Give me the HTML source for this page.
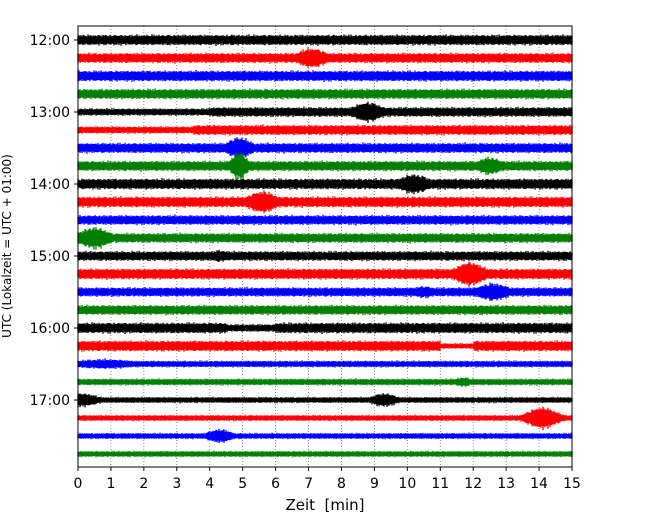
<!DOCTYPE html>
<html><head><meta charset="utf-8"><style>
body{margin:0;background:#fff}
svg{display:block;font-family:"DejaVu Sans","Liberation Sans",sans-serif}
</style></head><body>
<svg id="chart" width="650" height="520" xmlns="http://www.w3.org/2000/svg">
<rect width="650" height="520" fill="#fff"/>
<g id="grid"></g><g id="traces"></g><g id="axes"></g>
<text x="325" y="510" text-anchor="middle" font-size="15" xml:space="preserve">Zeit  [min]</text>
<text transform="translate(11,246) rotate(-90)" text-anchor="middle" font-size="12">UTC (Lokalzeit = UTC + 01:00)</text>
</svg>
<script>
// row base amplitudes (px half-height), 24 rows of 15 min each starting 12:00
const baseAmp=[4.2,4,4.3,4,3.8,4,4,4,4.3,4.3,3.8,3.8,3.8,4.3,3.6,3.8,4.3,4.3,2.3,2.3,2,2,2,2];
// events: row, minute, peak amplitude, width (minutes)
const evRow=[1,4,6,7,7,8,9,11,12,13,14,14,18,19,20,20,21,22];
const evMin=[7.1,8.8,4.9,4.9,12.5,10.2,5.6,0.5,4.3,11.9,12.6,10.5,0.8,11.7,0.1,9.3,14.1,4.3];
const evAmp=[9,9,10,13,8,9,10,10,5,11,8,5,4,4,6,6,10,6];
const evWid=[0.55,0.55,0.45,0.3,0.45,0.55,0.55,0.55,0.4,0.55,0.6,0.5,1.2,0.3,0.6,0.45,0.55,0.45];
// quiet segments: row, start minute, end minute, amplitude
const qRow=[4,5,16,17];
const qStart=[0,0,4.5,11];
const qEnd=[4,3.5,6,12];
const qAmp=[2.6,2.6,2.8,1.8];
const rowLabels=["12:00","13:00","14:00","15:00","16:00","17:00"];
const xTicks=[0,1,2,3,4,5,6,7,8,9,10,11,12,13,14,15];

const X0=78,X1=572,Y0=26,Y1=467,R0=40,RS=18;
const colors=["#000000","#ff0000","#0000ff","#008000"];
const xs=m=>X0+(X1-X0)*m/15;
const ys=r=>R0+r*RS;
const NS="http://www.w3.org/2000/svg";
function mk(tag,attrs,parent){const e=document.createElementNS(NS,tag);for(const k in attrs)e.setAttribute(k,attrs[k]);parent.appendChild(e);return e;}
const grid=document.getElementById('grid'),traces=document.getElementById('traces'),axes=document.getElementById('axes');
xTicks.forEach(t=>{
  const l=mk('line',{x1:xs(t),x2:xs(t),y1:Y0,y2:Y1,stroke:'#777','stroke-width':0.8,'stroke-dasharray':'1,2'},grid);
  
  
});
function amp(r,m){
  let a=baseAmp[r];
  for(let i=0;i<qRow.length;i++) if(qRow[i]===r&&m>=qStart[i]&&m<=qEnd[i]) a=qAmp[i];
  for(let i=0;i<evRow.length;i++) if(evRow[i]===r){const d=(m-evMin[i])/evWid[i];a=Math.max(a,evAmp[i]*Math.exp(-d*d));}
  return a;
}
for(let r=0;r<baseAmp.length;r++){
  let d='';const y=ys(r);
  for(let px=0;px<=X1-X0;px++){
    const m=px/(X1-X0)*15;
    const s=Math.sin(px*2.31+r)*0.5+Math.sin(px*1.13+r*1.7)*0.3+Math.sin(px*4.77+r*0.4)*0.2;
    const mod=0.7+0.45*Math.abs(s);
    const a=amp(r,m)*mod+0.7;
    const off=0.5*Math.sin(px*3.7+r);
    d+='M'+(X0+px)+' '+(y-a+off).toFixed(1)+'V'+(y+a+off).toFixed(1);
  }
  const p=mk('path',{d:d,stroke:colors[r%4],'stroke-width':1.3,fill:'none'},traces);
  
  
}
const fr=mk('rect',{x:X0,y:Y0,width:X1-X0,height:Y1-Y0,fill:'none',stroke:'#000','stroke-width':1},axes);


xTicks.forEach(t=>{
  mk('line',{x1:xs(t),x2:xs(t),y1:Y1,y2:Y1+4,stroke:'#000'},axes);
  const tx=mk('text',{x:xs(t),y:Y1+21,'text-anchor':'middle','font-size':14},axes);
  tx.textContent=t;
  
  
});
rowLabels.forEach((s,i)=>{
  const y=ys(i*4);
  mk('line',{x1:X0-4,x2:X0,y1:y,y2:y,stroke:'#000'},axes);
  const tx=mk('text',{x:X0-8,y:y+5,'text-anchor':'end','font-size':14},axes);
  tx.textContent=s;
  
  
});
</script>
</body></html>
